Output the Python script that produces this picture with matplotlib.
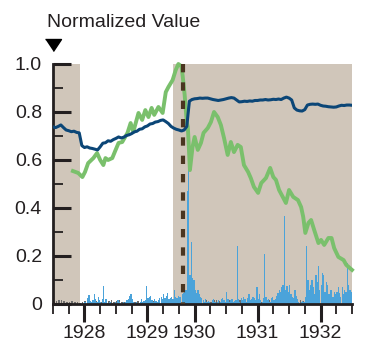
import matplotlib
matplotlib.use('Agg')
import matplotlib.pyplot as plt
import numpy as np

# x axis is in months counted from the left edge of the chart
year_ticks = [6, 18, 27, 39, 51]
year_labels = ['1928', '1929', '1930', '1931', '1932']

# shaded periods (start, end) in months
shaded = [(0, 5.2), (22.9, 57)]
event_month = 24.8

# dark blue series, sampled every half month
blue_line = [
    .738, .735, .740, .746, .735, .725, .722, .718, .720, .715,
    .713, .660, .652, .655, .650, .648, .645, .642, .655, .670,
    .672, .680, .678, .685, .690, .696, .692, .695, .702, .705,
    .710, .717, .720, .728, .730, .738, .742, .750, .752, .758,
    .760, .765, .767, .760, .752, .740, .733, .728, .725, .721,
    .725, .740, .845, .852, .855, .856, .858, .857, .858, .858,
    .855, .852, .850, .848, .850, .852, .855, .858, .860, .858,
    .850, .842, .843, .845, .844, .846, .845, .848, .848, .850,
    .850, .852, .850, .851, .853, .852, .854, .852, .858, .862,
    .858, .850, .817, .808, .805, .804, .810, .829, .832, .833,
    .832, .833, .828, .825, .824, .822, .821, .820, .821, .825,
    .828, .827, .829, .829, .828,
]

# green series, traced points (month, value)
green_month = [
    3.8, 4.8, 5.6, 6.1, 6.7, 7.7, 8.4, 9.0, 9.6, 10.0,
    10.5, 11.3, 11.9, 12.5, 13.2, 14.2, 14.8, 15.3, 16.3, 17.0,
    17.6, 18.2, 18.8, 19.3, 20.1, 20.9, 21.5, 22.0, 22.8, 23.4,
    23.9, 24.5, 24.7, 25.1, 25.5, 25.7, 25.9, 26.1, 26.6, 27.0,
    27.6, 28.2, 28.7, 29.5, 30.1, 30.7, 31.4, 32.0, 32.6, 33.3,
    33.9, 34.5, 35.2, 35.8, 36.4, 37.2, 37.7, 38.3, 39.1, 39.7,
    40.6, 41.4, 42.0, 42.5, 43.1, 43.9, 44.4, 45.0, 45.8, 46.7,
    47.3, 47.7, 48.1, 48.7, 49.2, 49.8, 50.6, 51.1, 51.7, 52.5,
    53.1, 53.6, 54.4, 55.4, 55.9, 57.0,
]
green_value = [
    .554, .546, .529, .550, .587, .608, .629, .600, .579, .608,
    .600, .608, .640, .671, .675, .713, .754, .717, .796, .767,
    .808, .779, .817, .788, .821, .796, .883, .904, .933, .975,
    1.00, .990, .954, .871, .758, .738, .654, .558, .654, .696,
    .642, .671, .713, .733, .758, .800, .779, .746, .692, .621,
    .675, .633, .663, .654, .579, .550, .525, .488, .463, .504,
    .525, .567, .529, .517, .475, .442, .421, .475, .446, .433,
    .404, .363, .296, .338, .350, .308, .254, .267, .246, .275,
    .275, .233, .196, .183, .163, .142,
]

# blue bars, weekly, in thousandths
blue_bars = [
    30, 0, 0, 0, 0, 0, 0, 0, 0, 0, 0, 0, 0, 0, 0, 0, 0, 0, 0, 0,
    0, 0, 5, 0, 10, 0, 25, 37, 12, 8, 15, 40, 20, 10, 30, 15, 8, 20, 75, 10,
    20, 5, 0, 8, 0, 5, 0, 10, 5, 15, 8, 0, 5, 10, 0, 8, 15, 20, 33, 40,
    20, 10, 5, 8, 0, 5, 10, 20, 8, 12, 15, 75, 25, 30, 33, 15, 10, 20, 12, 8,
    15, 25, 30, 20, 40, 25, 35, 46, 20, 25, 30, 20, 58, 30, 25, 35, 28, 30, 40, 45,
    50, 60, 470, 570, 120, 258, 110, 100, 60, 45, 58, 40, 30, 25, 15, 10, 20, 8, 12, 10,
    5, 15, 20, 10, 5, 8, 15, 10, 20, 25, 15, 10, 50, 20, 8, 15, 20, 10, 12, 15,
    242, 20, 10, 25, 15, 30, 20, 10, 25, 40, 15, 20, 30, 25, 15, 70, 20, 40, 15, 10,
    25, 210, 30, 15, 20, 10, 25, 30, 15, 20, 35, 45, 60, 50, 70, 80, 367, 60, 75, 50,
    80, 40, 30, 25, 60, 35, 20, 10, 5, 10, 12, 8, 30, 242, 100, 60, 80, 100, 70, 40,
    120, 90, 158, 60, 80, 130, 120, 50, 90, 80, 40, 60, 60, 30, 50, 40, 50, 70, 45, 30,
    70, 40, 60, 50, 171, 80, 60, 50, 45,
]

# gray bars, half-monthly, in thousandths
gray_bars = [
    8, 12, 15, 18, 12, 8, 10, 12, 8, 10, 5,
    10, 12, 8, 5, 10, 12, 8, 10, 5, 8, 12, 15, 10, 12, 15, 10, 8, 12, 15, 10,
    8, 12, 10, 8, 12, 10, 15, 12, 8, 10, 12, 15, 10, 8, 12, 10, 8, 12, 10, 15,
    10, 12, 8, 10, 15, 12, 18, 15, 12, 10, 15, 18, 12, 10, 15, 12, 18, 15, 10, 12,
    15, 12, 10, 8, 12, 15, 10, 12, 8, 10, 12, 15, 18, 12, 10, 8, 12, 10, 8, 12,
    10, 12, 15, 18, 12, 10, 8, 12, 10, 15, 12, 10, 8, 12, 10, 15, 12, 10, 8, 12,
    10, 12, 8, 10,
]

ink = '#231F20'
tan = '#D0C6BA'


def main():
    plt.rcParams['font.family'] = ['Liberation Sans', 'DejaVu Sans']
    fig = plt.figure(figsize=(3.68, 3.58), dpi=100)
    ax = fig.add_axes([53 / 368, 1 - 304 / 358, 299 / 368, 240 / 358])

    for start, end in shaded:
        ax.axvspan(start, end, color=tan, lw=0, zorder=0)

    gray_x = np.arange(len(gray_bars)) * 0.5
    ax.bar(gray_x, np.array(gray_bars) / 1000, width=0.3, color='#6B6B6B',
           lw=0, align='edge', zorder=1)
    blue_x = np.arange(len(blue_bars)) * 0.25
    ax.bar(blue_x, np.array(blue_bars) / 1000, width=0.24, color='#4BA3DA',
           lw=0, align='edge', zorder=2)

    ax.plot(green_month, green_value, color='#7AC06C', lw=2.8, zorder=3,
            clip_on=False, solid_joinstyle='round')
    line_x = np.arange(len(blue_line)) * 0.5
    ax.plot(line_x, blue_line, color='#0B4677', lw=2.2, zorder=4,
            solid_joinstyle='round')
    ax.plot([event_month, event_month], [1.0, 0], color='#4A3520', lw=3,
            ls=(0, (2.0, 2.4)), dash_capstyle='butt', zorder=5)

    # marker above the axis
    ax.plot([0], [1.08], marker=[(-1, 0.75), (1, 0.75), (0, -0.75)],
            ms=11.5, color='black', clip_on=False, zorder=6)

    ax.set_xlim(0, 57)
    ax.set_ylim(0, 1.0)
    ax.set_yticks([0, 0.2, 0.4, 0.6, 0.8, 1.0])
    ax.set_yticklabels(['0', '0.2', '0.4', '0.6', '0.8', '1.0'])
    ax.set_yticks(np.arange(0.1, 1.0, 0.2), minor=True)
    ax.set_xticks(year_ticks)
    ax.set_xticklabels(year_labels)
    ax.set_xticks(np.arange(0, 58, 3), minor=True)

    ax.tick_params(axis='y', which='major', direction='in', length=13,
                   width=2.2, color=ink, labelsize=14, labelcolor=ink, pad=8)
    ax.tick_params(axis='y', which='minor', direction='in', length=7,
                   width=1.3, color=ink)
    ax.tick_params(axis='x', which='major', direction='out', length=13,
                   width=2.2, color=ink, labelsize=14, labelcolor=ink, pad=2)
    ax.tick_params(axis='x', which='minor', direction='out', length=7,
                   width=1.3, color=ink)

    for side in ['top', 'right']:
        ax.spines[side].set_visible(False)
    for side in ['left', 'bottom']:
        ax.spines[side].set_linewidth(2.0)
        ax.spines[side].set_color(ink)
    ax.set_facecolor('white')

    fig.text(47 / 368, 1 - 27 / 358, 'Normalized Value', fontsize=14,
             color=ink, va='baseline', ha='left')

    fig.savefig('out.png', dpi=100)


if __name__ == '__main__':
    main()
